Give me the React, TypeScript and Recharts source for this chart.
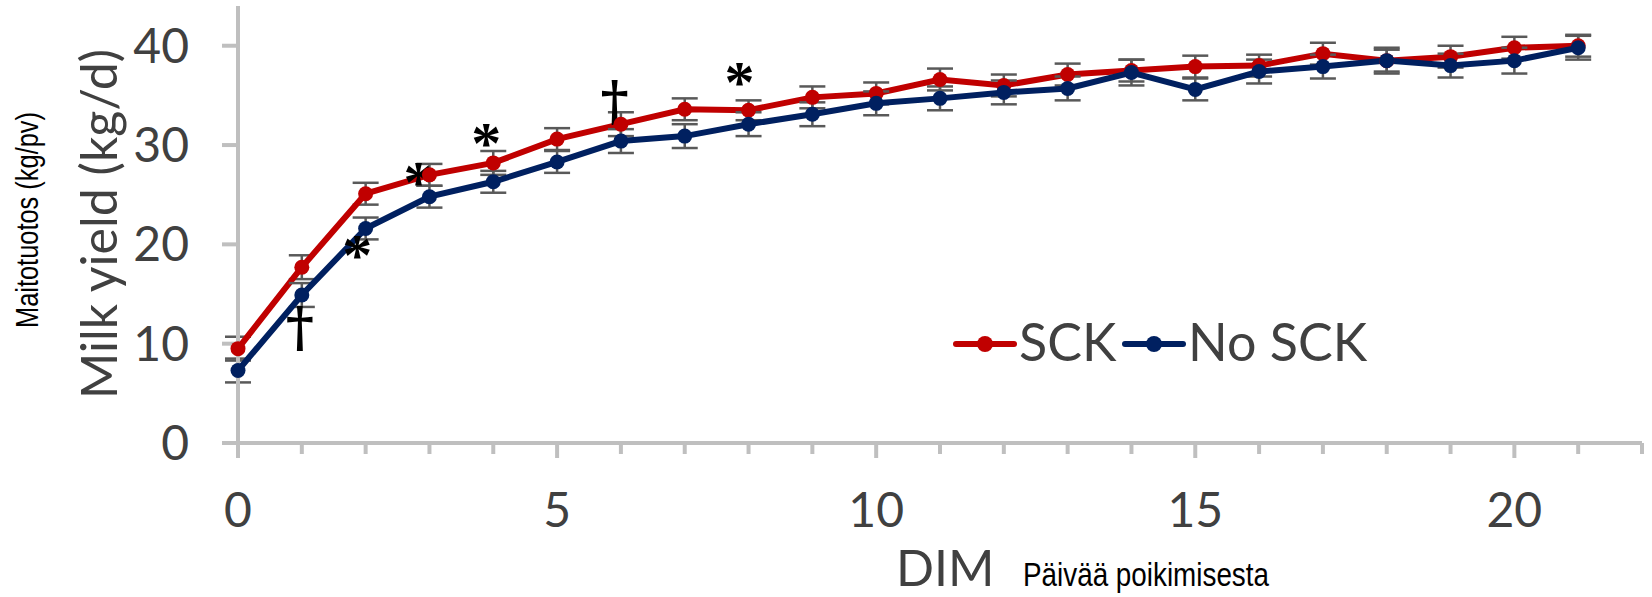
import { ComposedChart, Line, XAxis, YAxis, ErrorBar, ReferenceDot } from "recharts";

const FONT = "Lato, 'Noto Sans', sans-serif";
const NARROW = "'Liberation Sans Narrow', 'Liberation Sans', Arial, sans-serif";
const AXIS = "#bfbfbf";
const TEXT = "#404040";
const RED = "#c00000";
const BLUE = "#002060";
const ERR = "#595959";

const days = [0, 1, 2, 3, 4, 5, 6, 7, 8, 9, 10, 11, 12, 13, 14, 15, 16, 17, 18, 19, 20, 21];
const sck = [9.5, 17.7, 25.1, 27.0, 28.2, 30.6, 32.1, 33.6, 33.5, 34.8, 35.2, 36.6, 36.0, 37.1, 37.5, 37.9, 38.0, 39.2, 38.5, 38.9, 39.8, 40.0];
const noSck = [7.3, 14.9, 21.6, 24.8, 26.3, 28.3, 30.4, 30.9, 32.1, 33.1, 34.2, 34.7, 35.3, 35.7, 37.3, 35.6, 37.4, 37.9, 38.5, 38.0, 38.5, 39.8];
const sckErr = [1.2, 1.2, 1.1, 1.1, 1.2, 1.1, 1.2, 1.1, 1.0, 1.1, 1.1, 1.1, 1.1, 1.1, 1.1, 1.1, 1.1, 1.1, 1.1, 1.1, 1.1, 1.1];
const noSckErr = [1.2, 1.2, 1.1, 1.1, 1.1, 1.1, 1.2, 1.2, 1.2, 1.2, 1.2, 1.2, 1.2, 1.2, 1.3, 1.1, 1.2, 1.2, 1.3, 1.2, 1.3, 1.2];
const xTicks = [0, 1, 2, 3, 4, 5, 6, 7, 8, 9, 10, 11, 12, 13, 14, 15, 16, 17, 18, 19, 20, 21, 22];
const yTicks = [0, 10, 20, 30, 40];

const series = [
  { key: "sck", err: "sckErr", name: "SCK", color: RED },
  { key: "noSck", err: "noSckErr", name: "No SCK", color: BLUE },
];

// significance marks, in data coordinates
const marks = [
  { x: 0.97, y: 11.3, s: "†" },
  { x: 1.87, y: 19.8, s: "*" },
  { x: 2.83, y: 27.2, s: "*" },
  { x: 3.89, y: 31.1, s: "*" },
  { x: 5.9, y: 34.0, s: "†" },
  { x: 7.86, y: 37.3, s: "*" },
];

const data = days.map((d, i) => ({
  day: d,
  sck: sck[i],
  noSck: noSck[i],
  sckErr: sckErr[i],
  noSckErr: noSckErr[i],
}));

const XTick = (props: any) => {
  const { x, y, payload } = props;
  const major = payload.value % 5 === 0;
  return (
    <g>
      <line x1={x} x2={x} y1={y} y2={y + (major ? 15 : 11)} stroke={AXIS} strokeWidth={4} />
      {major && (
        <text x={x} y={y + 84} textAnchor="middle" fontSize={48} fill={TEXT} fontFamily={FONT}>
          {payload.value}
        </text>
      )}
    </g>
  );
};

const markShape = (s: string) => (props: any) => {
  if (s === "†") {
    return (
      <text
        x={props.cx}
        y={props.cy + 15}
        textAnchor="middle"
        fontSize={54}
        fontWeight="bold"
        fontFamily="'DejaVu Serif', serif"
        fill="#000"
      >
        {s}
      </text>
    );
  }
  return (
    <text
      x={props.cx}
      y={props.cy + 29}
      textAnchor="middle"
      fontSize={60}
      fontWeight="bold"
      fontFamily="'Liberation Serif', serif"
      fill="#000"
    >
      {s}
    </text>
  );
};

const legendPos = [956, 1125];

export default function App() {
  return (
    <div style={{ position: "absolute", left: 0, top: 0, width: 1652, height: 597, background: "#fff" }}>
      <ComposedChart width={1652} height={597} data={data} margin={{ top: 6, right: 10, left: 0, bottom: 0 }}>
        <XAxis
          dataKey="day"
          type="number"
          domain={[0, 22]}
          ticks={xTicks}
          interval={0}
          tick={XTick}
          tickLine={false}
          tickSize={0}
          tickMargin={0}
          height={154}
          axisLine={{ stroke: AXIS, strokeWidth: 4 }}
        />
        <YAxis
          type="number"
          domain={[0, 44]}
          ticks={yTicks}
          width={238}
          tickSize={16}
          tickMargin={33}
          tick={{ fontSize: 48, fill: TEXT, fontFamily: FONT }}
          tickLine={{ stroke: AXIS, strokeWidth: 4 }}
          axisLine={{ stroke: AXIS, strokeWidth: 4 }}
        />
        {series.map((s) => (
          <Line
            key={s.key}
            dataKey={s.key}
            name={s.name}
            stroke={s.color}
            strokeWidth={6}
            dot={{ r: 7.5, fill: s.color, stroke: s.color, strokeWidth: 0 }}
            isAnimationActive={false}
          >
            <ErrorBar dataKey={s.err} width={13} stroke={ERR} strokeWidth={2.5} direction="y" />
          </Line>
        ))}
        {marks.map((m, i) => (
          <ReferenceDot key={i} x={m.x} y={m.y} r={0} shape={markShape(m.s)} />
        ))}
      </ComposedChart>
      <svg width={1652} height={597} style={{ position: "absolute", left: 0, top: 0, pointerEvents: "none" }}>
        <text transform="translate(117,224) rotate(-90)" textAnchor="middle" fontSize={50} fill={TEXT} fontFamily={FONT}>
          Milk yield (kg/d)
        </text>
        <text
          transform="translate(38,220) rotate(-90)"
          textAnchor="middle"
          fontSize={31}
          textLength={216}
          lengthAdjust="spacingAndGlyphs"
          fill="#000"
          fontFamily={NARROW}
        >
          Maitotuotos (kg/pv)
        </text>
        <text x={896} y={586} fontSize={50} fill={TEXT} fontFamily={FONT}>
          DIM
        </text>
        <text
          x={1023}
          y={586}
          fontSize={34}
          textLength={246}
          lengthAdjust="spacingAndGlyphs"
          fill="#000"
          fontFamily={NARROW}
        >
          Päivää poikimisesta
        </text>
        {series.map((s, i) => (
          <g key={s.key}>
            <line x1={legendPos[i]} x2={legendPos[i] + 58} y1={344} y2={344} stroke={s.color} strokeWidth={6} strokeLinecap="round" />
            <circle cx={legendPos[i] + 29} cy={344} r={8} fill={s.color} />
            <text x={legendPos[i] + 63} y={361} fontSize={52} fill={TEXT} fontFamily={FONT}>
              {s.name}
            </text>
          </g>
        ))}
      </svg>
    </div>
  );
}
